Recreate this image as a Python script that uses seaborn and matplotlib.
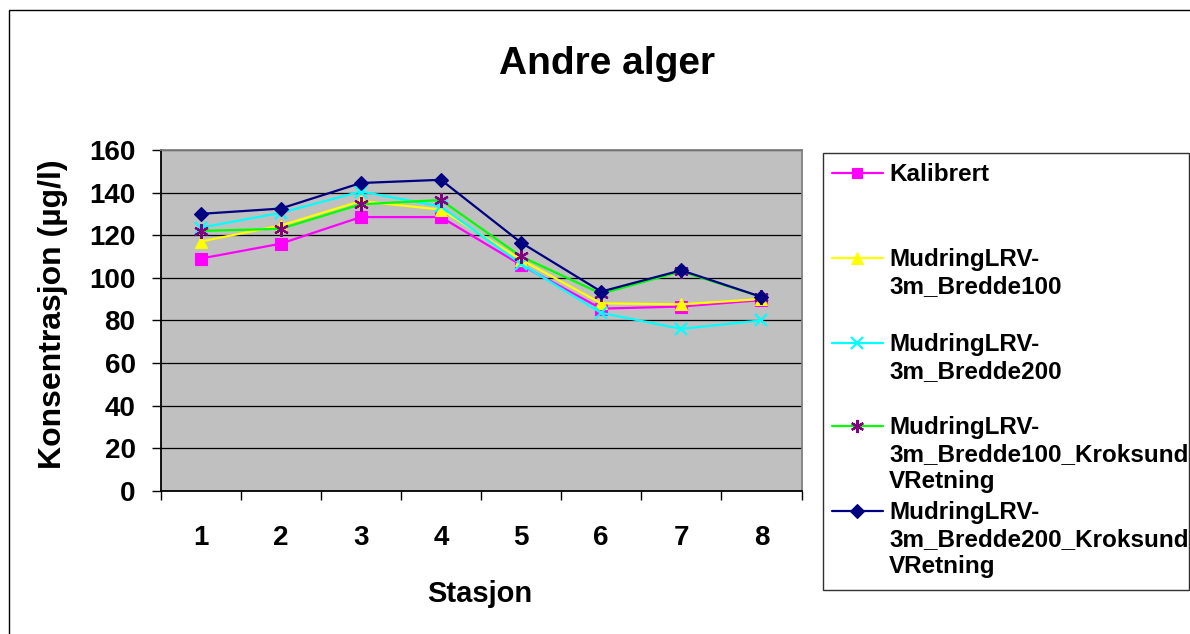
import numpy as np
import pandas as pd
import matplotlib
matplotlib.use("Agg")
import matplotlib.pyplot as plt
from matplotlib.lines import Line2D
from matplotlib.patches import Rectangle
import seaborn as sns

# Stations along the river
stations = [1, 2, 3, 4, 5, 6, 7, 8]

# Series names and concentrations (µg/l)
series_names = [
    "Kalibrert",
    "MudringLRV-3m_Bredde100",
    "MudringLRV-3m_Bredde200",
    "MudringLRV-3m_Bredde100_KroksundVRetning",
    "MudringLRV-3m_Bredde200_KroksundVRetning",
]
legend_labels = [
    "Kalibrert",
    "MudringLRV-\n3m_Bredde100",
    "MudringLRV-\n3m_Bredde200",
    "MudringLRV-\n3m_Bredde100_Kroksund\nVRetning",
    "MudringLRV-\n3m_Bredde200_Kroksund\nVRetning",
]
kalibrert = [109, 116, 128.5, 128.5, 106, 85.5, 86.5, 89.5]
bredde100 = [117, 124.5, 136, 132, 108.5, 88, 87.5, 90]
bredde200 = [123.5, 130.5, 140.5, 133.5, 106.5, 83.5, 76, 80]
bredde100_kroksund = [122, 123, 134.5, 136.5, 110, 92.5, 103, 91]
bredde200_kroksund = [130, 132.5, 144.5, 146, 116.5, 93.5, 103.5, 91]
all_values = [kalibrert, bredde100, bredde200, bredde100_kroksund, bredde200_kroksund]

y_ticks = [0, 20, 40, 60, 80, 100, 120, 140, 160]

# Per-series styling
line_colors = ["#FF00FF", "#FFFF00", "#00FFFF", "#00FF00", "#000080"]
marker_colors = ["#FF00FF", "#FFFF00", "#00FFFF", "#800080", "#000080"]
marker_shapes = ["s", "^", "x", (6, 2, 0), "D"]
marker_sizes = [8, 9, 9, 10.5, 7.5]
marker_edge_widths = [0.8, 0.8, 1.6, 1.6, 0.8]

df = pd.DataFrame({
    "Stasjon": np.tile(stations, len(series_names)),
    "Konsentrasjon": np.concatenate(all_values),
    "Serie": np.repeat(series_names, len(stations)),
})

sns.set_style("white")
plt.rcParams["font.family"] = ["Liberation Sans", "DejaVu Sans"]
plt.rcParams["font.weight"] = "bold"
for key in ["text.color", "axes.labelcolor", "xtick.color", "ytick.color"]:
    plt.rcParams[key] = "black"

W, H = 1190, 634
fig = plt.figure(figsize=(W / 100, H / 100), dpi=100)

def fx(px):
    return px / W

def fy(py):
    return 1 - py / H

# Plot area
left, right, top, bottom = 160.5, 801.5, 150.0, 490.7
ax = fig.add_axes([fx(left), fy(bottom), fx(right) - fx(left), fy(top) - fy(bottom)])
ax.set_facecolor("#C0C0C0")

for name, lc, mc, mk, ms, mw in zip(series_names, line_colors, marker_colors,
                                    marker_shapes, marker_sizes, marker_edge_widths):
    sub = df[df["Serie"] == name]
    sns.lineplot(data=sub, x="Stasjon", y="Konsentrasjon", ax=ax, color=lc,
                 linewidth=1.6, marker=mk, markersize=ms, markerfacecolor=mc,
                 markeredgecolor=mc, markeredgewidth=mw, legend=False, zorder=3)

ax.set_xlim(0.5, 8.5)
ax.set_ylim(0, 160)
ax.set_yticks(y_ticks)
ax.set_xticks(stations)
ax.set_xticks(np.arange(0.5, 9.0, 1.0), minor=True)
ax.set_axisbelow(True)
ax.yaxis.grid(True, color="black", linewidth=0.9)
ax.xaxis.grid(False)

ax.tick_params(axis="x", which="major", length=0, pad=24.5, labelsize=20,
               labelcolor="black")
ax.tick_params(axis="x", which="minor", length=6.5, width=1.0, color="black",
               direction="out", bottom=True)
ax.tick_params(axis="y", which="major", length=6.5, width=1.0, color="black",
               direction="out", left=True, pad=11.5, labelsize=20, labelcolor="black")
for lbl in ax.get_xticklabels() + ax.get_yticklabels():
    lbl.set_fontweight("bold")

for side in ["left", "bottom"]:
    ax.spines[side].set_color("black")
    ax.spines[side].set_linewidth(1.3)
for side in ["top", "right"]:
    ax.spines[side].set_color("#808080")
    ax.spines[side].set_linewidth(1.3)

ax.set_xlabel("Stasjon", fontsize=21, fontweight="bold", va="baseline", color="black")
ax.xaxis.set_label_coords((480 - left) / (right - left), (bottom - 601.7) / (bottom - top))
ax.set_ylabel("Konsentrasjon (µg/l)", fontsize=23, fontweight="bold", va="baseline",
              color="black")
ax.yaxis.set_label_coords((61 - left) / (right - left), (bottom - 314) / (bottom - top))

fig.text(fx(607.5), fy(74.3), "Andre alger", fontsize=28, fontweight="bold",
         ha="center", va="baseline", color="black")

# Legend box
fig.patches.append(Rectangle((fx(822.7), fy(590)), fx(1189) - fx(822.7), fy(153.3) - fy(590),
                             transform=fig.transFigure, facecolor="white",
                             edgecolor="#303030", linewidth=1.0))
entry_y = [172.7, 257.7, 342.7, 426.0, 511.0]
for lbl, lc, mc, mk, ms, mw, ey in zip(legend_labels, line_colors, marker_colors,
                                       marker_shapes, marker_sizes, marker_edge_widths, entry_y):
    fig.add_artist(Line2D([fx(831.7), fx(883.3)], [fy(ey), fy(ey)], color=lc,
                          linewidth=1.6, transform=fig.transFigure))
    fig.add_artist(Line2D([fx(856.7)], [fy(ey)], color=lc, marker=mk,
                          markersize=ms * 0.9, markerfacecolor=mc, markeredgecolor=mc,
                          markeredgewidth=mw, linestyle="none", transform=fig.transFigure))
    fig.text(fx(889.3), fy(ey - 10), lbl, fontsize=17.5, fontweight="bold",
             ha="left", va="top", linespacing=1.22, color="black")

# Chart border
fig.patches.append(Rectangle((fx(9), fy(660)), fx(1220) - fx(9), fy(10) - fy(660),
                             transform=fig.transFigure, facecolor="none",
                             edgecolor="black", linewidth=1.0, clip_on=False))

fig.savefig("out.png", dpi=100)
